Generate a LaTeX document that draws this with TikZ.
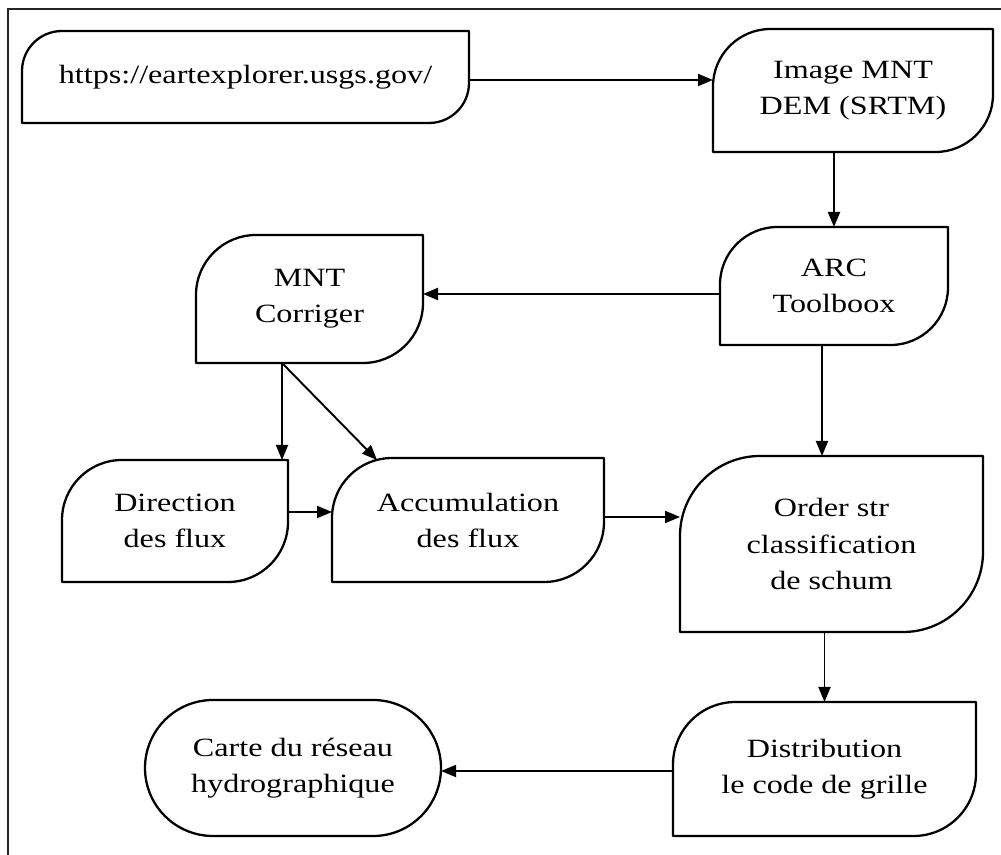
\documentclass[tikz,border=0pt]{standalone}
\usepackage{fontspec}
\setmainfont{Liberation Serif}[FakeStretch=1.22]
\usetikzlibrary{calc,arrows.meta,shapes.misc}

\tikzstyle{leafNode}=[shape=rectangle,draw=none,inner sep=0pt,outer sep=0pt,align=center,font=\fontsize{15}{20.5}\selectfont]
\tikzstyle{endNode}=[shape=rounded rectangle,draw,line width=1.3pt,inner sep=0pt,outer sep=0pt,align=center,font=\fontsize{15}{20.5}\selectfont]
\tikzstyle{leafLine}=[line width=1.3pt,line join=round]
\tikzstyle{flow}=[->,line width=1.1pt]

% outline: top left and bottom right corners rounded
\newcommand{\leafOutline}[2]{%
  \draw[leafLine] ($(#1.north west)+(0,-#2)$) arc[start angle=180,end angle=90,radius=#2]
    -- (#1.north east) -- ($(#1.south east)+(0,#2)$)
    arc[start angle=0,end angle=-90,radius=#2] -- (#1.south west) -- cycle;}

\begin{document}
\begin{tikzpicture}[>={Triangle[length=0.3cm,width=0.24cm]}]
        \useasboundingbox (0,0) rectangle (20.02,-17.1);
        \draw[line width=1pt,black!85] (0.16,-17.1) -- (0.16,-0.18) -- (20.02,-0.18);

        % data source
        \node[leafNode,minimum width=8.94cm,minimum height=1.84cm] (url) at (4.91,-1.54) {https://eartexplorer.usgs.gov/};
        \node[leafNode,minimum width=5.6cm,minimum height=2.46cm] (img) at (17.06,-1.81) {Image MNT\\DEM (SRTM)};
        \node[leafNode,minimum width=4.56cm,minimum height=2.36cm] (arc) at (16.68,-5.72) {ARC\\Toolboox};
        \node[leafNode,minimum width=4.54cm,minimum height=2.56cm] (mnt) at (6.19,-5.98) {MNT\\Corriger};

        % flux
        \node[leafNode,minimum width=4.52cm,minimum height=2.44cm] (dir) at (3.5,-10.42) {Direction\\des flux};
        \node[leafNode,minimum width=5.44cm,minimum height=2.48cm] (acc) at (9.36,-10.4) {Accumulation\\des flux};
        \node[leafNode,minimum width=6.06cm,minimum height=3.52cm] (ord) at (16.63,-10.88) {Order str\\classification\\de schum};

        % result
        \node[leafNode,minimum width=6.06cm,minimum height=2.68cm] (dist) at (16.49,-15.38) {Distribution\\le code de grille};
        \node[endNode,minimum width=5.92cm,minimum height=2.72cm] (carte) at (5.86,-15.36) {Carte du réseau\\hydrographique};

        \leafOutline{url}{0.8cm}
        \leafOutline{img}{1.15cm}
        \leafOutline{arc}{1.15cm}
        \leafOutline{mnt}{1.2cm}
        \leafOutline{dir}{1.2cm}
        \leafOutline{acc}{1.2cm}
        \leafOutline{ord}{1.6cm}
        \leafOutline{dist}{1.25cm}

        \draw [flow] ([yshift=-0.06cm]url.east) -- ([yshift=-0.06cm]url.east -| img.west);
        \draw [flow] (arc.north |- img.south) -- (arc.north);
        \draw [flow] ([yshift=-0.16cm]arc.west) -- ([yshift=-0.16cm]arc.west -| mnt.east);
        %\draw [flow] (mnt) to (dir);
        \draw [flow] ([xshift=-0.12cm]dir.north east |- mnt.south) -- ([xshift=-0.12cm]dir.north east);
        \draw [flow] ([xshift=-0.12cm]dir.north east |- mnt.south) -- ([xshift=0.9cm,yshift=-0.04cm]acc.north west);
        \draw [flow] ([yshift=0.18cm]dir.east) -- ([yshift=0.18cm]dir.east -| acc.west);
        \draw [flow] ([yshift=0.06cm]acc.east) -- ([yshift=0.06cm]acc.east -| ord.west);
        \draw [flow] ([xshift=-0.24cm]arc.south) -- ([xshift=-0.24cm]arc.south |- ord.north);
        \draw [flow] (dist.north |- ord.south) -- (dist.north);
        \draw [flow] ([yshift=-0.04cm]dist.west) -- ([yshift=-0.04cm]dist.west -| carte.east);
    \end{tikzpicture}
\end{document}
